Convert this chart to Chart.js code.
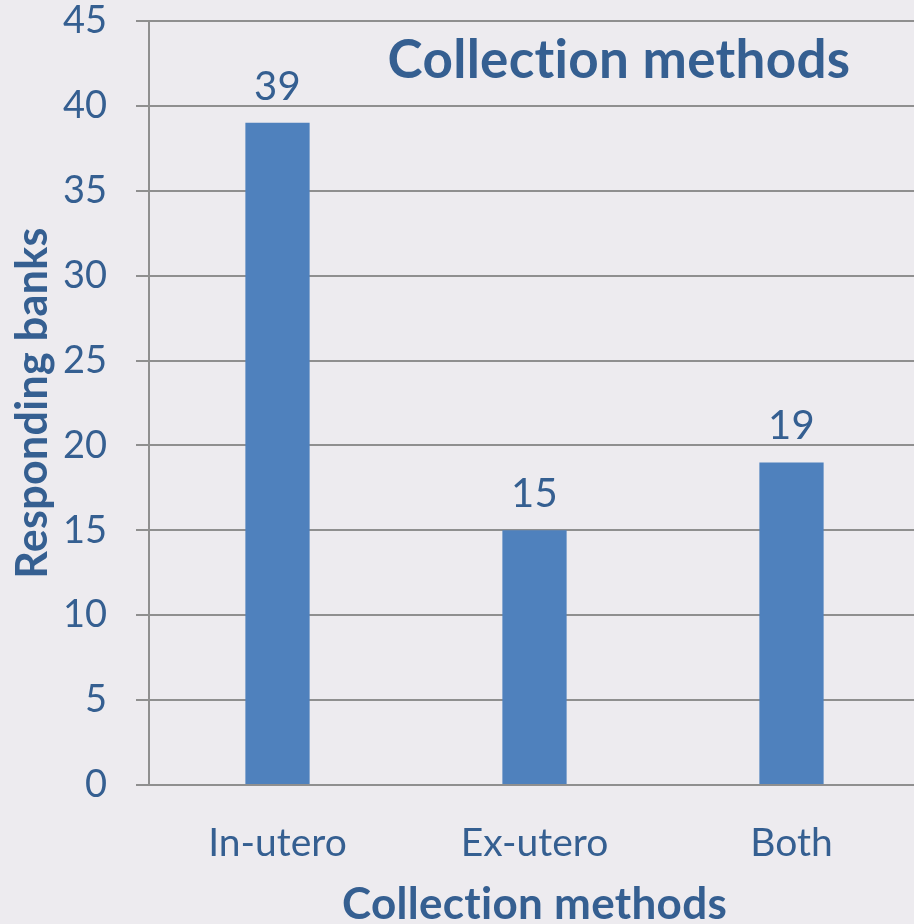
<!DOCTYPE html>
<html>
<head>
<meta charset="utf-8">
<script src="https://cdn.jsdelivr.net/npm/chart.js@4/dist/chart.umd.min.js"></script>
<style>
  html, body { margin: 0; padding: 0; background: #EDEBEF; overflow: hidden; }
  #wrap { width: 920px; height: 924px; position: relative; }
</style>
</head>
<body>
<div id="wrap"><canvas id="myChart"></canvas></div>
<script>
'use strict';

const categories = ['In-utero', 'Ex-utero', 'Both'];
const banks = [39, 15, 19];
const yTicks = [0, 5, 10, 15, 20, 25, 30, 35, 40, 45];

const textBlue = '#355F91';
const gridGray = '#8F8F8F';
const fontFam = 'Lato, "Open Sans", sans-serif';

// titles and value labels drawn on top of the chart
const extraText = {
    id: 'extraText',
    afterDatasetsDraw(chart) {
        const ctx = chart.ctx;
        const area = chart.chartArea;
        const meta = chart.getDatasetMeta(0);
        ctx.save();
        ctx.fillStyle = textBlue;
        ctx.textAlign = 'center';
        ctx.textBaseline = 'alphabetic';
        ctx.letterSpacing = '0.3px';

        ctx.font = '40px ' + fontFam;
        meta.data.forEach((bar, i) => {
            ctx.fillText(String(banks[i]), bar.x, bar.y - 23);
        });

        ctx.font = 'bold 53px ' + fontFam;
        ctx.fillText('Collection methods', 619, 78);

        ctx.font = 'bold 44px ' + fontFam;
        ctx.fillText('Collection methods', (area.left + area.right) / 2, 919);

        ctx.save();
        ctx.translate(47, (area.top + area.bottom) / 2);
        ctx.rotate(-Math.PI / 2);
        ctx.font = 'bold 43px ' + fontFam;
        ctx.fillText('Responding banks', 0, 0);
        ctx.restore();

        ctx.restore();
    }
};

const ctx = document.getElementById('myChart').getContext('2d');
const myChart = new Chart(ctx, {
    type: 'bar',
    data: {
        labels: categories,
        datasets: [{
            label: 'Responding banks',
            data: banks,
            backgroundColor: '#4F81BD',
            borderWidth: 0,
            barPercentage: 0.25,
            categoryPercentage: 1
        }]
    },
    options: {
        responsive: true,
        maintainAspectRatio: false,
        animation: false,
        layout: { padding: { top: 21, left: 0, right: 0, bottom: 0 } },
        plugins: {
            legend: { display: false },
            tooltip: { enabled: false }
        },
        scales: {
            x: {
                grid: { display: false },
                border: { display: true, color: gridGray, width: 2 },
                ticks: {
                    color: textBlue,
                    font: { family: fontFam, size: 39 },
                    padding: 27
                },
                afterFit(scale) {
                    scale.height = 139;
                    scale.paddingLeft = 0;
                    scale.paddingRight = 0;
                }
            },
            y: {
                min: 0,
                max: 45,
                afterBuildTicks(scale) { scale.ticks = yTicks.map(v => ({ value: v })); },
                grid: { color: gridGray, lineWidth: 2, tickLength: 13 },
                border: { display: true, color: gridGray, width: 2 },
                ticks: {
                    color: textBlue,
                    font: { family: fontFam, size: 38 },
                    padding: 29
                },
                afterFit(scale) {
                    scale.width = 149;
                    scale.paddingTop = 0;
                    scale.paddingBottom = 0;
                }
            }
        }
    },
    plugins: [extraText]
});
</script>
</body>
</html>
